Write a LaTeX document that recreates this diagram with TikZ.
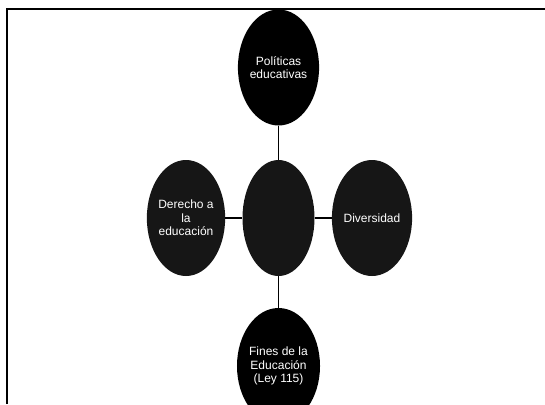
\documentclass[tikz,border=0pt]{standalone}
\usepackage{fontspec}
\setmainfont{Liberation Sans}
\usetikzlibrary{shapes.geometric}
\definecolor{mapblack}{RGB}{0,0,0}
\definecolor{mapdark}{RGB}{22,22,22}

\begin{document}
\begin{tikzpicture}[x=0.75pt, y=-0.75pt,
    tema/.style={ellipse, fill=mapblack, text=white, align=center, inner sep=0pt,
        minimum width=54pt, minimum height=87pt, font=\fontsize{9}{10.2}\selectfont},
    temagris/.style={tema, fill=mapdark},
    enlace/.style={draw=black, line width=1pt}]
    \useasboundingbox (0,0) rectangle (545,404);
    % marco
    \draw[line width=1.6pt] (7,404) |- (545,9);

    \node[temagris] (centro) at (278.5,218) {};
    \node[tema] (politicas) at (278.5,67.5) {Políticas\\educativas};
    \node[temagris] (derecho) at (186,218) {Derecho a\\la\\educación};
    \node[temagris] (diversidad) at (372,218) {Diversidad};
    \node[tema] (fines) at (278.5,366) {Fines de la\\Educación\\(Ley 115)};

    \draw[enlace] (centro) -- (politicas);
    \draw[enlace] (centro) -- (derecho);
    \draw[enlace] (centro) -- (diversidad);
    \draw[enlace] (centro) -- (fines);
\end{tikzpicture}
\end{document}
